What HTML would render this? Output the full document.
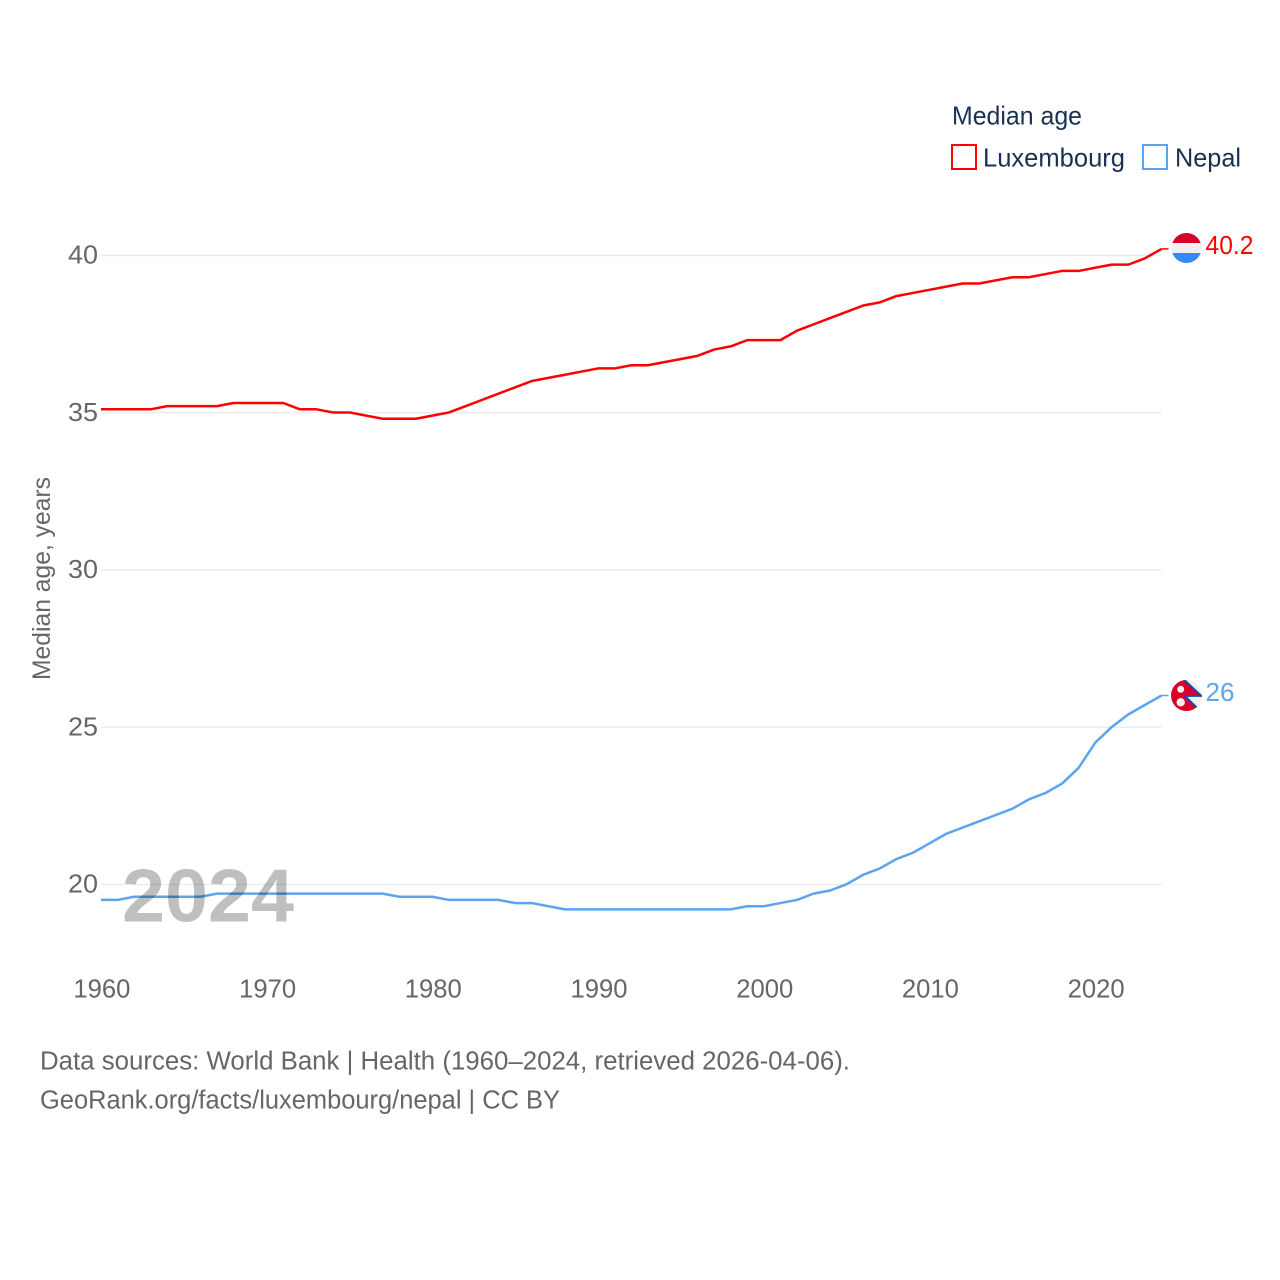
<!DOCTYPE html>
<html lang="en">
<head>
<meta charset="utf-8">
<title>Median age: Luxembourg and Nepal</title>
<style>
html,body{margin:0;padding:0;background:#fff;}
svg{display:block;font-family:"Liberation Sans",sans-serif;}
</style>
</head>
<body>
<svg id="chart" width="1280" height="1280" viewBox="0 0 1280 1280" xmlns="http://www.w3.org/2000/svg">
  <defs>
    <clipPath id="clip-lux"><circle cx="1186.5" cy="248" r="15"/></clipPath>
    <clipPath id="clip-nep"><circle cx="1186.5" cy="695.5" r="15.500"/></clipPath>
  </defs>
  <rect width="1280" height="1280" fill="#fff"/>

  <g id="grid"></g>
  <g id="yticks"></g>
  <g id="xticks"></g>

  <text transform="translate(50,680) rotate(-90)" font-size="25" fill="#666" textLength="203" lengthAdjust="spacingAndGlyphs">Median age, years</text>

  <g id="series"></g>

  <g clip-path="url(#clip-lux)">
    <rect x="1171" y="233" width="31" height="10" fill="#d80027"/>
    <rect x="1171" y="243" width="31" height="10" fill="#f0f0f0"/>
    <rect x="1171" y="253" width="31" height="10" fill="#338af3"/>
  </g>
  <text x="1205.5" y="254" font-size="25.5" fill="#ff0000" textLength="48" lengthAdjust="spacingAndGlyphs">40.2</text>

  <g clip-path="url(#clip-nep)">
    <rect x="1170" y="679" width="33" height="34" fill="#f0f0f0"/>
    <polygon points="1170,679 1183.500,679 1201.500,696 1185,696 1201.500,712 1170,712" fill="#d80027"/>
    <polyline points="1183.500,679 1201.500,696 1185,696 1201.500,712" fill="none" stroke="#0052b4" stroke-width="1.800"/>
    <circle cx="1180.7" cy="689.300" r="3.500" fill="#f0f0f0"/>
    <circle cx="1180.7" cy="702.300" r="4.200" fill="#f0f0f0"/>
  </g>
  <text x="1205.5" y="701" font-size="25.5" fill="#5ba4ef" textLength="29" lengthAdjust="spacingAndGlyphs">26</text>

  <text x="122" y="921.500" font-size="75" font-weight="bold" fill="#000" fill-opacity="0.25" textLength="172" lengthAdjust="spacingAndGlyphs">2024</text>

  <g>
    <text x="952" y="124.500" font-size="26" fill="#1a3152" textLength="130" lengthAdjust="spacingAndGlyphs">Median age</text>
    <g>
      <rect x="952" y="145" width="24" height="24" fill="#fff" stroke="#ff0000" stroke-width="2"/>
      <text x="983" y="166.500" font-size="26" fill="#1a3152" textLength="142" lengthAdjust="spacingAndGlyphs">Luxembourg</text>
    </g>
    <g>
      <rect x="1143" y="145" width="24" height="24" fill="#fff" stroke="#5ba4ef" stroke-width="2"/>
      <text x="1175" y="166.500" font-size="26" fill="#1a3152" textLength="66" lengthAdjust="spacingAndGlyphs">Nepal</text>
    </g>
  </g>

  <text x="40" y="1069.500" font-size="25.5" fill="#666" textLength="810" lengthAdjust="spacingAndGlyphs">Data sources: World Bank | Health (1960–2024, retrieved 2026-04-06).</text>
  <text x="40" y="1108.500" font-size="25.5" fill="#666" textLength="520" lengthAdjust="spacingAndGlyphs">GeoRank.org/facts/luxembourg/nepal | CC BY</text>
</svg>
<script>
const years = [1960,1961,1962,1963,1964,1965,1966,1967,1968,1969,1970,1971,1972,1973,1974,1975,1976,1977,1978,1979,1980,1981,1982,1983,1984,1985,1986,1987,1988,1989,1990,1991,1992,1993,1994,1995,1996,1997,1998,1999,2000,2001,2002,2003,2004,2005,2006,2007,2008,2009,2010,2011,2012,2013,2014,2015,2016,2017,2018,2019,2020,2021,2022,2023,2024];
const luxembourg = [35.1,35.1,35.1,35.1,35.2,35.2,35.2,35.2,35.3,35.3,35.3,35.3,35.1,35.1,35.0,35.0,34.9,34.8,34.8,34.8,34.9,35.0,35.2,35.4,35.6,35.8,36.0,36.1,36.2,36.3,36.4,36.4,36.5,36.5,36.6,36.7,36.8,37.0,37.1,37.3,37.3,37.3,37.6,37.8,38.0,38.2,38.4,38.5,38.7,38.8,38.9,39.0,39.1,39.1,39.2,39.3,39.3,39.4,39.5,39.5,39.6,39.7,39.7,39.9,40.2];
const nepal = [19.5,19.5,19.6,19.6,19.6,19.6,19.6,19.7,19.7,19.7,19.7,19.7,19.7,19.7,19.7,19.7,19.7,19.7,19.6,19.6,19.6,19.5,19.5,19.5,19.5,19.4,19.4,19.3,19.2,19.2,19.2,19.2,19.2,19.2,19.2,19.2,19.2,19.2,19.2,19.3,19.3,19.4,19.5,19.7,19.8,20.0,20.3,20.5,20.8,21.0,21.3,21.6,21.8,22.0,22.2,22.4,22.7,22.9,23.2,23.7,24.5,25.0,25.4,25.7,26.0];
const yTicks = [20,25,30,35,40];
const xTicks = [1960,1970,1980,1990,2000,2010,2020];

const NS = 'http://www.w3.org/2000/svg';
function xScale(year){ return 101 + (year - 1960) * (1161.5 - 101) / (2024 - 1960); }
function yScale(v){ return 884.2 - (v - 20) * (884.2 - 255.2) / (40 - 20); }

const gridGroup = document.getElementById('grid');
const yGroup = document.getElementById('yticks');
const xGroup = document.getElementById('xticks');
const seriesGroup = document.getElementById('series');

yTicks.forEach(function(t){
  const line = document.createElementNS(NS,'line');
  
  
  line.setAttribute('x1', xScale(1960));
  line.setAttribute('x2', xScale(2024));
  line.setAttribute('y1', yScale(t) + 0.3);
  line.setAttribute('y2', yScale(t) + 0.3);
  line.setAttribute('stroke', '#ececec');
  line.setAttribute('stroke-width', 1.5);
  gridGroup.appendChild(line);

  const label = document.createElementNS(NS,'text');
  
  
  label.setAttribute('x', 68);
  label.setAttribute('y', yScale(t) + 8.3);
  label.setAttribute('font-size', 25.5);
  label.setAttribute('fill', '#666');
  label.setAttribute('textLength', 30);
  label.setAttribute('lengthAdjust', 'spacingAndGlyphs');
  label.textContent = t;
  yGroup.appendChild(label);
});

xTicks.forEach(function(t){
  const label = document.createElementNS(NS,'text');
  
  
  label.setAttribute('x', xScale(t) - 27.6);
  label.setAttribute('y', 997.5);
  label.setAttribute('font-size', 25.5);
  label.setAttribute('fill', '#666');
  label.setAttribute('textLength', 57);
  label.setAttribute('lengthAdjust', 'spacingAndGlyphs');
  label.textContent = t;
  xGroup.appendChild(label);
});

function drawSeries(values, color, seriesName, connectorName){
  const line = document.createElementNS(NS,'polyline');
  
  
  line.setAttribute('points', values.map(function(v,i){ return xScale(years[i]) + ',' + yScale(v); }).join(' '));
  line.setAttribute('fill', 'none');
  line.setAttribute('stroke', color);
  line.setAttribute('stroke-width', 2.5);
  line.setAttribute('stroke-linejoin', 'round');
  seriesGroup.appendChild(line);

  const last = values[values.length - 1];
  const connector = document.createElementNS(NS,'line');
  
  
  connector.setAttribute('x1', xScale(years[years.length - 1]));
  connector.setAttribute('x2', xScale(years[years.length - 1]) + 7);
  connector.setAttribute('y1', yScale(last));
  connector.setAttribute('y2', yScale(last));
  connector.setAttribute('stroke', color);
  connector.setAttribute('stroke-width', 1.5);
  seriesGroup.appendChild(connector);
}
drawSeries(luxembourg, '#ff0000', 'luxembourg-line', 'luxembourg-connector');
drawSeries(nepal, '#5ba4ef', 'nepal-line', 'nepal-connector');
</script>
</body>
</html>
